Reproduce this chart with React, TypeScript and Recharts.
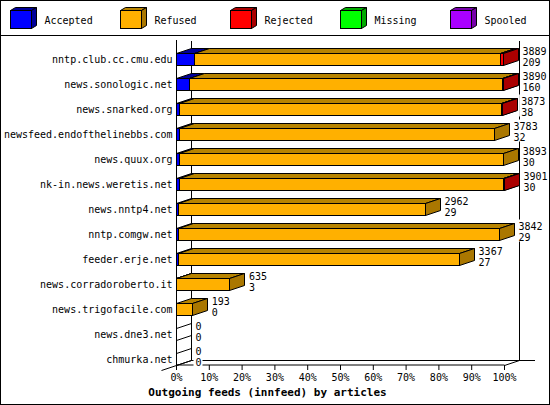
import React from 'react';
import { BarChart, Bar, XAxis, YAxis, Legend, LabelList, Customized } from 'recharts';

const feeds = ['nntp.club.cc.cmu.edu','news.sonologic.net','news.snarked.org','newsfeed.endofthelinebbs.com','news.quux.org','nk-in.news.weretis.net','news.nntp4.net','nntp.comgw.net','feeder.erje.net','news.corradoroberto.it','news.trigofacile.com','news.dne3.net','chmurka.net'];
const offered = [3889,3890,3873,3783,3893,3901,2962,3842,3367,635,193,0,0];
const accepted = [209,160,38,32,30,30,29,29,27,3,0,0,0];
const rejected = [40,16,6,0,0,6,0,0,0,0,0,0,0];
const missing = [0,0,0,0,0,0,0,0,0,0,0,0,0];
const spooled = [0,0,0,0,0,0,0,0,0,0,0,0,0];
const tickPercents = [0,10,20,30,40,50,60,70,80,90,100];
const seriesNames = ['Accepted','Refused','Rejected','Missing','Spooled'];
const frontColors = ['#0000ff','#ffb000','#ff0000','#00ff00','#aa00ff'];
const topColors = ['#000099','#b88400','#aa0000','#00aa00','#7700aa'];
const sideColors = ['#000099','#aa7700','#aa0000','#00aa00','#7700aa'];

const maxOffered = Math.max(...offered);
const rows = feeds.map((feed, i) => ({
  feed,
  offered: offered[i],
  Accepted: accepted[i],
  Refused: offered[i] - accepted[i] - rejected[i] - missing[i] - spooled[i],
  Rejected: rejected[i],
  Missing: missing[i],
  Spooled: spooled[i],
}));

const W = 550, H = 405;
const DX = 15, DY = 5;
const SHIFT = 6.5;
const MONO = '"DejaVu Sans Mono", monospace';
const plotLeft = 176.5, plotRight = 504.5, plotTop = 40.5, plotBottom = 365.5;

const makeBox = (s: number) => (p: any) => {
  const x0 = Math.round(p.x - 0.5) + 0.5;
  const x1 = Math.round(p.x + p.width - 0.5) + 0.5;
  const y0 = Math.floor(p.y + SHIFT) + 0.5;
  const y1 = y0 + 12;
  const sw = { stroke: '#000', strokeWidth: 1 };
  if (p.width <= 0) {
    if (s === 0 && offered[p.index] === 0) {
      return <polygon points={`${x0},${y1} ${x0 + DX},${y1 - DY} ${x0 + DX},${y0 - DY} ${x0},${y0}`} fill="none" {...sw} />;
    }
    return <g />;
  }
  return (
    <g>
      <polygon points={`${x0},${y0} ${x0 + DX},${y0 - DY} ${x1 + DX},${y0 - DY} ${x1},${y0}`} fill={topColors[s]} {...sw} />
      <polygon points={`${x1},${y0} ${x1 + DX},${y0 - DY} ${x1 + DX},${y1 - DY} ${x1},${y1}`} fill={sideColors[s]} {...sw} />
      <rect x={x0} y={y0} width={x1 - x0} height={12} fill={frontColors[s]} {...sw} />
    </g>
  );
};

const rowLabel = (p: any) => {
  const i = p.index;
  const lx = p.x + p.width + DX + 4;
  const cy = p.y + p.height / 2 + SHIFT;
  const top = String(offered[i]);
  const bottom = String(accepted[i]);
  return (
    <g fontFamily={MONO} fontSize={10} fill="#000">
      <rect x={lx - 2} y={cy - 15} width={top.length * 6 + 3} height={22} fill="#fff" />
      <text x={lx} y={cy - 5}>{top}</text>
      <text x={lx} y={cy + 6}>{bottom}</text>
    </g>
  );
};

const BackPlane = () => (
  <g stroke="#000" strokeWidth={1} fill="none" shapeRendering="crispEdges">
    <rect x={0.5} y={0.5} width={W - 1} height={H - 1} />
    <line x1={0} y1={35.5} x2={W} y2={35.5} />
    <line x1={plotLeft + DX} y1={plotTop} x2={plotLeft + DX} y2={plotBottom - DY} />
    <line x1={plotRight + DX} y1={plotTop} x2={plotRight + DX} y2={plotBottom - DY} />
    <line x1={plotLeft + DX} y1={plotBottom - DY} x2={plotRight + 2 * DX} y2={plotBottom - DY} />
    <g shapeRendering="auto">
      <line x1={plotLeft - DX} y1={plotBottom + DY} x2={plotLeft + DX} y2={plotBottom - DY} />
      <line x1={plotRight} y1={plotBottom} x2={plotRight + DX} y2={plotBottom - DY} />
    </g>
  </g>
);

const LegendRow = () => (
  <svg width={W} height={35} style={{ display: 'block' }}>
    {seriesNames.map((name, i) => {
      const x = 10.5 + i * 110;
      return (
        <g key={name}>
          <polygon points={`${x},10.5 ${x + 5},7.5 ${x + 26},7.5 ${x + 21},10.5`} fill={topColors[i]} stroke="#000" />
          <polygon points={`${x + 21},10.5 ${x + 26},7.5 ${x + 26},25.5 ${x + 21},28.5`} fill={sideColors[i]} stroke="#000" />
          <rect x={x} y={10.5} width={21} height={18} fill={frontColors[i]} stroke="#000" />
          <text x={x + 34} y={23.5} fontFamily={MONO} fontSize={10} fill="#000">{name}</text>
        </g>
      );
    })}
  </svg>
);

const FeedTick = (p: any) => (
  <text x={p.x} y={p.y + SHIFT + 3.5} textAnchor="end" fontFamily={MONO} fontSize={10} fill="#000">
    {p.payload.value}
  </text>
);

export default function App() {
  return (
    <div style={{ position: 'absolute', left: 0, top: 0, background: '#fff' }}>
      <BarChart
        width={W}
        height={H}
        data={rows}
        layout="vertical"
        barCategoryGap={0}
        barSize={12}
        margin={{ top: 5, right: 45.5, bottom: 0, left: 0.5 }}
      >
        <Customized component={BackPlane} />
        <Legend
          verticalAlign="top"
          align="left"
          height={35}
          width={W}
          wrapperStyle={{ top: 0, left: 0, margin: 0 }}
          content={() => <LegendRow />}
        />
        <XAxis
          type="number"
          domain={[0, maxOffered]}
          ticks={tickPercents.map((t) => (t * maxOffered) / 100)}
          tickFormatter={(v: number) => `${Math.round((v / maxOffered) * 100)}%`}
          tick={{ fontFamily: MONO, fontSize: 10, fill: '#000' }}
          axisLine={{ stroke: '#000' }}
          tickLine={{ stroke: '#000' }}
          tickSize={5}
          tickMargin={4}
          interval={0}
          height={40}
          label={{
            value: 'Outgoing feeds (innfeed) by articles',
            position: 'insideBottom',
            dx: -73,
            dy: -4,
            style: { fontFamily: MONO, fontSize: 11, fontWeight: 'bold', fill: '#000' },
          }}
        />
        <YAxis
          type="category"
          dataKey="feed"
          width={176}
          interval={0}
          tick={FeedTick}
          tickLine={false}
          tickSize={0}
          tickMargin={4}
          axisLine={{ stroke: '#000' }}
        />
        {seriesNames.map((name, s) => (
          <Bar key={name} dataKey={name} name={name} stackId="feed" fill={frontColors[s]} isAnimationActive={false} shape={makeBox(s)}>
            {s === seriesNames.length - 1 ? <LabelList dataKey="offered" content={rowLabel} /> : null}
          </Bar>
        ))}
      </BarChart>
    </div>
  );
}
